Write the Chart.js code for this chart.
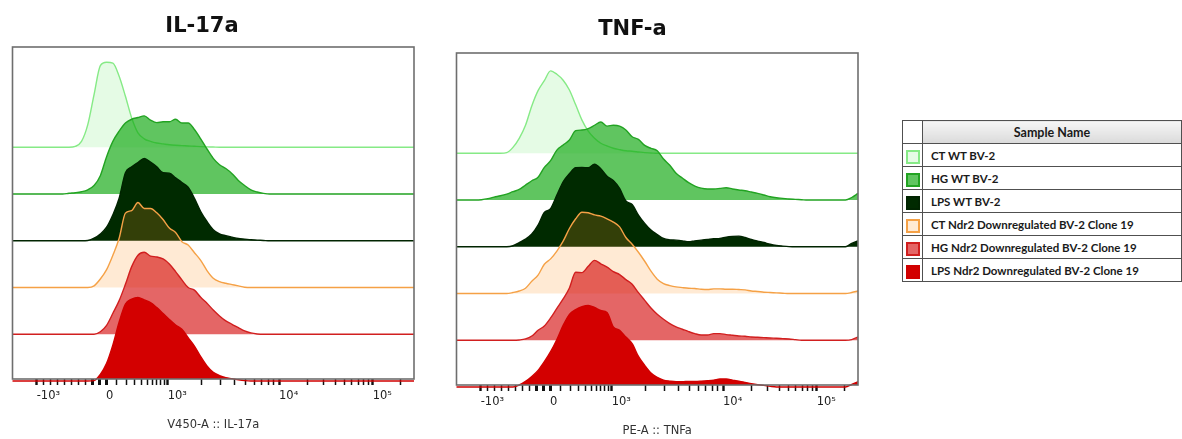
<!DOCTYPE html>
<html>
<head>
<meta charset="utf-8">
<script src="https://cdn.jsdelivr.net/npm/chart.js@4.4.1/dist/chart.umd.min.js"></script>
<style>
  html, body { margin: 0; padding: 0; background: #fff; overflow: hidden; }
  body { width: 1182px; height: 439px; position: relative; }
  .panel { position: absolute; width: 440px; height: 439px; }
  #il17Panel { left: 0; top: 0; }
  #tnfPanel { left: 444px; top: 6px; }
  #sampleTable {
    position: absolute; left: 902px; top: 120px; width: 280px;
    border-collapse: collapse; font-family: Lato, "DejaVu Sans", sans-serif;
    color: #1a1a1a;
  }
  #sampleTable td, #sampleTable th { border: 1.5px solid #505050; padding: 0; height: 22px; }
  #sampleTable th { font-weight: bold; font-size: 12.5px; background: linear-gradient(#f6f6f6, #dadada); }
  #sampleTable th.blank { background: #fff; width: 19px; }
  #sampleTable td.name { font-weight: bold; font-size: 11.5px; padding-left: 8px; text-align: left; }
  #sampleTable td.swatch { text-align: center; }
  .box { display: inline-block; width: 10px; height: 10px; border: 2px solid; vertical-align: middle; }
</style>
</head>
<body>
<div class="panel" id="il17Panel"><canvas id="il17Chart"></canvas></div>
<div class="panel" id="tnfPanel"><canvas id="tnfChart"></canvas></div>
<table id="sampleTable"></table>
<script>
// samples, listed top lane first
const SAMPLE_NAMES = [
    'CT WT BV-2',
    'HG WT BV-2',
    'LPS WT BV-2',
    'CT Ndr2 Downregulated BV-2 Clone 19',
    'HG Ndr2 Downregulated BV-2 Clone 19',
    'LPS Ndr2 Downregulated BV-2 Clone 19',
];
const SAMPLE_LINE = ['#86ea86', '#22a322', '#002400', '#f5a146', '#d11f1f', '#d00000'];
const SAMPLE_FILL = ['rgba(150,240,150,0.25)', 'rgba(20,170,20,0.68)', '#002a00',
                     'rgba(255,150,40,0.2)', 'rgba(210,0,0,0.6)', '#d30000'];

// axis ticks (real units) and labels of the major ones
const MAJOR_TICKS  = [-1000, 0, 1000, 10000, 100000];
const MAJOR_LABELS = ['-10³', '0', '10³', '10⁴', '10⁵'];
const MINOR_TICKS  = [-900, -800, -700, -600, -500, -400, -300, -200, -100,
                      100, 200, 300, 400, 500, 600, 700, 800, 900,
                      2000, 3000, 4000, 5000, 6000, 7000, 8000, 9000,
                      20000, 30000, 40000, 50000, 60000, 70000, 80000, 90000, 200000];

// histogram bins: 16-channel steps across the 0..1024 display range
const CHANNEL_MAX = 1024;
const BIN_CHANNELS = Array.from({ length: 65 }, (_, i) => i * 16);

// % of mode per bin — IL-17a (V450-A)
const IL17_CT_WT = [0,0,0,0,0,0,0,0,0,0, 1,7,26.7,62,96,100,99,83.5,60,34.5,17,10,7,5,4,3,2.4,2,1.6,1.2,0.8,0.5,0.3,
    0,0,0,0,0,0,0,0,0,0,0,0,0,0,0,0,0,0,0,0,0,0,0,0,0,0,0,0,0,0,0,0];
const IL17_HG_WT = [0,0,0,0,0,0,0,0,0, 1,1.6,2.7,5,10,21.6,44,62,74,83.5,88,90,92,87,84,85,85,88,83.5,83.5,76,65,53,42,34.5,30,24,16,10,5,2.4,0.8,
    0,0,0,0,0,0,0,0,0,0,0,0,0,0,0,0,0,0,0,0,0,0,0,0];
const IL17_LPS_WT = [0,0,0,0,0,0,0,0,0,0,0,0, 0.4,3,8,16,30.6,50,80,87,92,97,92.5,87,80,79.6,74,68.6,63,50,34.5,22.7,13,8,6,4.3,2.7,2,1.2,0.8,0.4,
    0,0,0,0,0,0,0,0,0,0,0,0,0,0,0,0,0,0,0,0,0,0,0,0];
const IL17_CT_NDR2 = [0,0,0,0,0,0,0,0,0,0,0,0,0, 2,10,21,38,58,87.5,90.6,100,93,93,88,80,70,64.7,54,50,41,32,20,11,7,5,3.5,2,0.4,
    0,0,0,0,0,0,0,0,0,0,0,0,0,0,0,0,0,0,0,0,0,0,0,0,0,0,0];
const IL17_HG_NDR2 = [0,0,0,0,0,0,0,0,0,0,0,0,0,0, 3,10.6,24.7,39.6,58.8,79.6,93,96.5,92,91,88.6,82.7,73.7,64,55,52,43.5,36.5,28.6,21.6,15.7,11.8,7.8,4,1.6,0.4,
    0,0,0,0,0,0,0,0,0,0,0,0,0,0,0,0,0,0,0,0,0,0,0,0,0];
const IL17_LPS_NDR2 = [0,0,0,0,0,0,0,0,0,0,0,0,0, 0.5,7.9,20.8,42.4,69.4,90.4,96.4,98.4,95.4,92.4,86.4,79.4,72.4,65.9,60.8,51,41.2,28.7,17.7,10.2,6.4,4,2.8,1.5,0.5,
    0,0,0,0,0,0,0,0,0,0,0,0,0,0,0,0,0,0,0,0,0,0,0,0,0,0,0];

// % of mode per bin — TNF-a (PE-A)
const TNF_CT_WT = [0,0,0,0,0,0,0,0, 0.8,7,17.6,33,55.7,73.7,85.5,97,93,86,74.5,57,39,26,17.6,11.8,8.6,5.9,4.3,3,2.4,1.6,0.8,0.4,
    0,0,0,0,0,0,0,0,0,0,0,0,0,0,0,0,0,0,0,0,0,0,0,0,0,0,0,0,0,0,0,0,0];
const TNF_HG_WT = [0,0,0,0, 0.4,1.6,3.5,5,7,9.8,12.5,17.6,22.7,26.7,38.4,46.3,58.8,64.7,70.6,81.6,82.4,84,88,91.8,87,88,87,82.4,74.5,71.4,64.3,60.8,58,48.2,41,31.4,25.9,20.4,16.5,14,13,13,13.7,14.5,13,11.8,11,9.4,7.8,5.9,3.9,2.7,2,1.2,0.8,0.4,
    0,0,0,0,0,0,0, 3,7.8];
const TNF_LPS_WT = [0,0,0,0,0,0,0,0,0, 1.2,5,9,15,25.5,40.4,45,60.8,76.5,86,93,93.3,93,97.3,91.8,83,78,68.6,54,49.8,37.3,27.5,19.6,14.5,9.8,8.2,7.8,7,5.9,7,7.8,8.6,9.4,9.8,11.4,12.2,12.5,11,8.6,6.7,5,3,1.6,0.8,0.2,
    0,0,0,0,0,0,0,0,0, 4,7];
const TNF_CT_NDR2 = [0,0,0,0,0,0,0,0,0, 1.2,3,6.3,14.5,21.6,34.5,40.8,50,61.6,76.5,88,95.7,95,92.5,91,87.8,84,78.4,65.9,58,48.6,38,26.3,16.9,11.8,9.4,7.8,7,6.3,5.9,5.1,4.7,5.5,5.5,5.1,5.1,4.7,4.3,3,2.4,1.6,1.2,0.8,0.4,
    0,0,0,0,0,0,0,0,0,0, 1.2,3];
const TNF_HG_NDR2 = [0,0,0,0,0,0,0,0,0,0, 0.4,1.6,5,11.8,16.9,26.3,37.6,48.6,61.6,80,79.6,87,94,90,86,80.8,77.3,71.4,65.9,56,47,38,30.6,24.7,19.6,15.7,13,10.2,7.8,6.3,6.3,7.8,7.8,6.7,5.9,5.1,4.7,3.9,3.5,3.1,2.7,2.4,2,1.6,0.8,
    0,0,0,0,0,0,0,0, 0.8,3.9];
const TNF_LPS_NDR2 = [0,0,0,0,0,0,0,0,0,0, 2.4,6.7,12.5,19.6,29.8,41.6,56,72.5,85.5,91,94.5,96,93.7,90,87.8,70.6,66.7,58.8,51,36,25.5,16.5,11.4,8.2,7,6.3,6.3,6.7,6.7,7,7.5,8.2,9.4,9.4,8.2,7,5.5,3.9,2.7,2,0.8,
    0,0,0,0,0,0,0,0,0,0,0,0, 3,6.3];

const LANE_STEP = 55;   // vertical offset between stacked histograms

// biexponential-style display: real value -> display channel
function toChannel(v) {
    if (v >= 1000) {
        const d = Math.log10(v);
        return d <= 4 ? 395.8 + 284 * (d - 3) : 680 + 238.6 * (d - 4);
    }
    if (v >= 0) return 238.7 + 157.1 * Math.asinh(v / 300) / Math.asinh(1000 / 300);
    if (v >= -1000) return 238.7 + 177 * v / 1000;
    return 61.7 - 284 * (Math.log10(-v) - 3);
}

const AXIS_TICKS = MAJOR_TICKS.concat(MINOR_TICKS).sort((a, b) => a - b);

function tickLabel(v) {
    const i = MAJOR_TICKS.indexOf(v);
    return i >= 0 ? MAJOR_LABELS[i] : '';
}

function tickWidth(v) {
    if (v >= -200 && v <= 0) return 3;
    return MAJOR_TICKS.includes(v) ? 2.4 : 1.5;
}

const plotFrame = {
    id: 'plotFrame',
    afterDatasetsDraw(chart) {
        const { ctx, chartArea: a } = chart;
        ctx.save();
        ctx.strokeStyle = '#6e6e6e';
        ctx.lineWidth = 1.6;
        ctx.strokeRect(a.left, a.top, a.right - a.left, a.bottom - a.top);
        ctx.restore();
    },
};

const panelTitle = {
    id: 'panelTitle',
    afterDraw(chart, args, opts) {
        const { ctx } = chart;
        ctx.save();
        ctx.font = 'bold 21px "DejaVu Sans"';
        ctx.fillStyle = '#111';
        ctx.textAlign = 'center';
        ctx.textBaseline = 'alphabetic';
        ctx.fillText(opts.text, opts.x, opts.y);
        ctx.restore();
    },
};

function buildDatasets(seriesList) {
    const n = seriesList.length;
    return seriesList.map((values, i) => {
        const base = (n - 1 - i) * LANE_STEP;
        return {
            label:           SAMPLE_NAMES[i],
            data:            values.map((v, k) => ({ x: BIN_CHANNELS[k], y: base + v })),
            fill:            { value: base },
            borderColor:     SAMPLE_LINE[i],
            backgroundColor: SAMPLE_FILL[i],
            borderWidth:     1.4,
            pointRadius:     0,
            cubicInterpolationMode: 'monotone',
            clip:            false,
            order:           n - 1 - i,   // lower lanes sit on top
        };
    });
}

function buildChart(canvasId, seriesList, title, axisTitle) {
    return new Chart(document.getElementById(canvasId).getContext('2d'), {
        type: 'line',
        data: { datasets: buildDatasets(seriesList) },
        plugins: [plotFrame, panelTitle],
        options: {
            responsive: true,
            maintainAspectRatio: false,
            animation: false,
            layout: { padding: { left: 12.5, right: 26, top: 47, bottom: 0 } },
            plugins: {
                legend:  { display: false },
                tooltip: { enabled: false },
                panelTitle: title,
            },
            scales: {
                x: {
                    type: 'linear',
                    min: 0,
                    max: CHANNEL_MAX,
                    z: 1,
                    afterFit: scale => { scale.height = 60; },
                    afterBuildTicks: scale => {
                        scale.ticks = AXIS_TICKS.map(v => ({ value: toChannel(v) }));
                    },
                    border: { display: false },
                    grid: {
                        display: true,
                        drawOnChartArea: false,
                        drawTicks: true,
                        tickLength: 6,
                        tickColor: '#111',
                        lineWidth: 1,
                        tickWidth: ctx => tickWidth(AXIS_TICKS[ctx.index]),
                    },
                    ticks: {
                        autoSkip: false,
                        maxRotation: 0,
                        minRotation: 0,
                        align: 'start',
                        padding: 4,
                        color: '#222',
                        font: { family: 'DejaVu Sans', size: 11.5 },
                        callback: (value, index) => tickLabel(AXIS_TICKS[index]),
                    },
                    title: {
                        display: true,
                        text: axisTitle,
                        color: '#333',
                        font: { family: 'DejaVu Sans', size: 11.5 },
                        padding: { top: 0, bottom: 7 },
                    },
                },
                y: { display: false, min: 2.4, max: 393 },
            },
        },
    });
}

buildChart('il17Chart',
    [IL17_CT_WT, IL17_HG_WT, IL17_LPS_WT, IL17_CT_NDR2, IL17_HG_NDR2, IL17_LPS_NDR2],
    { text: 'IL-17a', x: 202, y: 31.5 }, 'V450-A :: IL-17a');

buildChart('tnfChart',
    [TNF_CT_WT, TNF_HG_WT, TNF_LPS_WT, TNF_CT_NDR2, TNF_HG_NDR2, TNF_LPS_NDR2],
    { text: 'TNF-a', x: 188.5, y: 29 }, 'PE-A :: TNFa');

// sample key table
const table = document.getElementById('sampleTable');
table.innerHTML = '<tr><th class="blank"></th><th>Sample Name</th></tr>' +
    SAMPLE_NAMES.map((name, i) =>
        `<tr><td class="swatch"><span class="box" style="background:${SAMPLE_FILL[i]};border-color:${SAMPLE_LINE[i]}"></span></td>` +
        `<td class="name">${name}</td></tr>`).join('');
</script>
</body>
</html>
